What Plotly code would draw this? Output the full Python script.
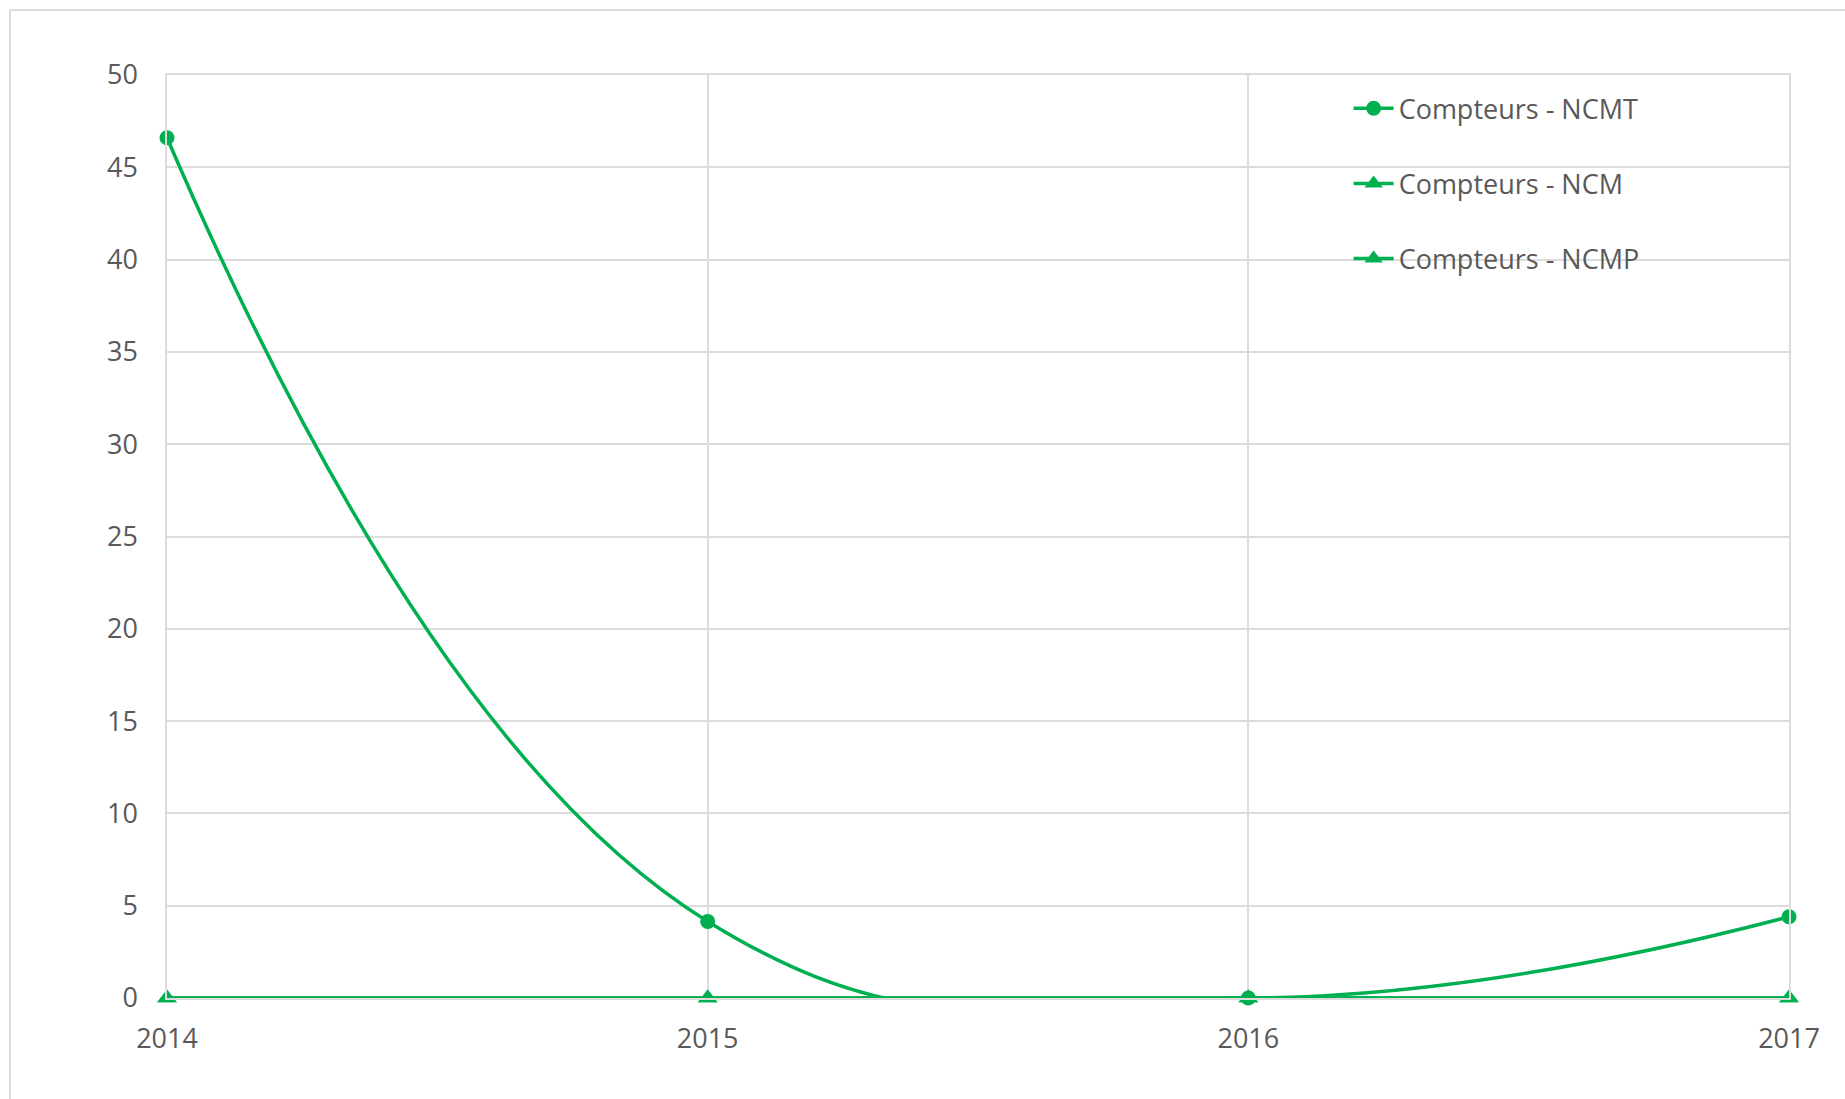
import plotly.graph_objects as go

# Nombre de compteurs par année
years = [2014, 2015, 2016, 2017]
ncmt = [46.6, 4.15, 0, 4.4]
ncm = [0, 0, 0, 0]
ncmp = [0, 0, 0, 0]

GREEN = "#00b050"
GRID = "#dcdcdc"
TEXT = "#595959"
FONT = "Open Sans"
FS = 27

fig = go.Figure()

series = [
    ("Compteurs - NCMT", ncmt, "circle", 15),
    ("Compteurs - NCM", ncm, "triangle-up", 17),
    ("Compteurs - NCMP", ncmp, "triangle-up", 17),
]
for name, values, symbol, size in series:
    fig.add_trace(go.Scatter(
        x=years, y=values, name=name, legendgroup=name,
        mode="lines+markers",
        line=dict(color=GREEN, width=3.5, shape="spline", smoothing=1.3),
        marker=dict(symbol=symbol, size=size, color=GREEN,
                    line=dict(width=0)),
        cliponaxis=False,
    ))

# Cadre du graphique (bords haut et gauche)
fig.add_shape(type="line", xref="paper", yref="paper",
              x0=-0.0968, x1=1.05, y0=1.0704, y1=1.0704,
              line=dict(color=GRID, width=2))
fig.add_shape(type="line", xref="paper", yref="paper",
              x0=-0.0968, x1=-0.0968, y0=1.0704, y1=-0.11,
              line=dict(color=GRID, width=2))

fig.update_layout(
    width=1845, height=1099,
    margin=dict(l=167, r=56, t=75, b=101),
    paper_bgcolor="white", plot_bgcolor="white",
    font=dict(family=FONT, size=FS, color=TEXT),
    showlegend=True,
    legend=dict(
        x=0.7285, y=0.99, xanchor="left", yanchor="top",
        bgcolor="rgba(0,0,0,0)",
        font=dict(family=FONT, size=FS, color=TEXT),
        traceorder="grouped", tracegroupgap=37,
        itemwidth=40,
    ),
    xaxis=dict(
        range=[2014, 2017], tickvals=years, ticktext=[str(y) for y in years],
        showgrid=True, gridcolor=GRID, gridwidth=1.5,
        showline=True, mirror=True, linecolor=GRID, linewidth=1.5,
        zeroline=False, ticks="",
        ticklabelstandoff=16,
        tickfont=dict(family=FONT, size=FS, color=TEXT),
    ),
    yaxis=dict(
        range=[0, 50], dtick=5, tick0=0,
        showgrid=True, gridcolor=GRID, gridwidth=1.5,
        showline=True, mirror=True, linecolor=GRID, linewidth=1.5,
        zeroline=False, ticks="",
        ticklabelstandoff=22,
        tickfont=dict(family=FONT, size=FS, color=TEXT),
    ),
)

fig.write_html("out.html")
